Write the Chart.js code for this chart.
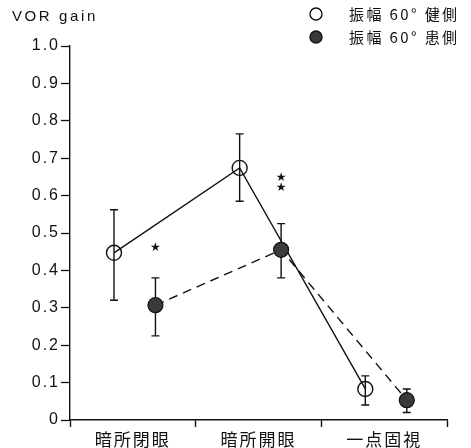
<!DOCTYPE html>
<html>
<head>
<meta charset="utf-8">
<script src="https://cdn.jsdelivr.net/npm/chart.js@4.4.1/dist/chart.umd.min.js"></script>
<style>
  html, body { margin: 0; padding: 0; background: #ffffff; }
  #wrap { width: 471px; height: 448px; }
</style>
</head>
<body>
<div id="wrap"><canvas id="c" width="471" height="448"></canvas></div>
<script>
// ---- data ----
const categories = ['暗所閉眼', '暗所開眼', '一点固視'];
const seriesLabels = ['振幅 60° 健側', '振幅 60° 患側'];
const healthyMean = [0.447, 0.674, 0.083];
const healthyLow  = [0.320, 0.585, 0.040];
const healthyHigh = [0.562, 0.765, 0.118];
const affectedMean = [0.307, 0.455, 0.053];
const affectedLow  = [0.225, 0.380, 0.020];
const affectedHigh = [0.380, 0.525, 0.083];
const seriesOffset = [-0.15, 0.18];           // position of each series inside its category
const sigMarks = ['★', '★★', ''];             // significance markers above the 患側 points
const sigLevel = [0.46, 0.635, null];
const yTickValues = [0, 0.1, 0.2, 0.3, 0.4, 0.5, 0.6, 0.7, 0.8, 0.9, 1.0];
const yTickLabels = ['0', '0.1', '0.2', '0.3', '0.4', '0.5', '0.6', '0.7', '0.8', '0.9', '1.0'];
const yTitle = 'VOR gain';

// ---- helpers ----
function pts(means, off) {
  return means.map((v, i) => ({ x: i + 0.5 + off, y: v }));
}

const errorBars = {
  id: 'errorBars',
  beforeDatasetsDraw(chart) {
    const { ctx, scales: { x, y } } = chart;
    ctx.save();
    ctx.letterSpacing = '0px';
    ctx.strokeStyle = '#111';
    ctx.lineWidth = 1.4;
    ctx.setLineDash([]);
    chart.data.datasets.forEach(ds => {
      ds.data.forEach((p, i) => {
        const px = x.getPixelForValue(p.x);
        const y1 = y.getPixelForValue(ds.errLow[i]);
        const y2 = y.getPixelForValue(ds.errHigh[i]);
        ctx.beginPath();
        ctx.moveTo(px, y1); ctx.lineTo(px, y2);
        ctx.moveTo(px - 4, y1); ctx.lineTo(px + 4, y1);
        ctx.moveTo(px - 4, y2); ctx.lineTo(px + 4, y2);
        ctx.stroke();
      });
    });
    ctx.restore();
  }
};

const spacing = {
  id: 'spacing',
  beforeDraw(chart) { chart.ctx.letterSpacing = '2px'; },
  beforeDatasetsDraw(chart) { chart.ctx.letterSpacing = '0px'; }
};

const extras = {
  id: 'extras',
  afterDraw(chart) {
    const { ctx, scales: { x, y } } = chart;
    ctx.save();
    // significance stars
    ctx.fillStyle = '#111';
    ctx.font = '12px "DejaVu Sans"';
    ctx.textAlign = 'center';
    ctx.textBaseline = 'middle';
    ctx.letterSpacing = '0px';
    sigMarks.forEach((m, i) => {
      if (!m || sigLevel[i] == null) return;
      const px = x.getPixelForValue(i + 0.5 + seriesOffset[1]);
      const py = y.getPixelForValue(sigLevel[i]);
      const chars = Array.from(m);
      chars.forEach((ch, k) => {
        ctx.fillText(ch, px, py + (k - (chars.length - 1) / 2) * 10);
      });
    });
    // y-axis title
    ctx.font = '15px "Liberation Sans"';
    ctx.textAlign = 'left';
    ctx.letterSpacing = '2.6px';
    ctx.fillText(yTitle, 12, 17);
    // legend
    chart.data.datasets.forEach((ds, i) => {
      const cy = 14 + i * 23;
      ctx.beginPath();
      ctx.arc(316, cy, 6, 0, Math.PI * 2);
      ctx.fillStyle = ds.pointBackgroundColor === 'rgba(0,0,0,0)' ? '#fff' : ds.pointBackgroundColor;
      ctx.fill();
      ctx.lineWidth = 1.4;
      ctx.strokeStyle = '#111';
      ctx.stroke();
      ctx.fillStyle = '#111';
      ctx.font = '15px "Noto Sans CJK JP"';
      ctx.letterSpacing = '2.4px';
      ctx.textBaseline = 'middle';
      ctx.fillText(ds.label, 349, cy);
    });
    ctx.restore();
  }
};

new Chart(document.getElementById('c'), {
  type: 'scatter',
  data: {
    datasets: [
      {
        label: seriesLabels[0],
        data: pts(healthyMean, seriesOffset[0]),
        errLow: healthyLow, errHigh: healthyHigh,
        showLine: true,
        borderColor: '#111', borderWidth: 1.4,
        pointRadius: 7.5, pointBorderWidth: 1.4,
        pointBackgroundColor: 'rgba(0,0,0,0)', pointBorderColor: '#111',
        order: 1
      },
      {
        label: seriesLabels[1],
        data: pts(affectedMean, seriesOffset[1]),
        errLow: affectedLow, errHigh: affectedHigh,
        showLine: true,
        borderColor: '#111', borderWidth: 1.4, borderDash: [9, 6],
        pointRadius: 7.5, pointBorderWidth: 1.2,
        pointBackgroundColor: '#3a3a3a', pointBorderColor: '#111',
        order: 0
      }
    ]
  },
  options: {
    responsive: false,
    animation: false,
    devicePixelRatio: 1,
    clip: false,
    layout: { padding: { top: 46, right: 24, left: 0, bottom: 0 } },
    plugins: { legend: { display: false }, tooltip: { enabled: false } },
    scales: {
      x: {
        type: 'linear', min: 0, max: 3,
        afterBuildTicks(axis) {
          const t = [];
          for (let i = 0; i <= categories.length; i++) {
            t.push({ value: i });
            if (i < categories.length) t.push({ value: i + 0.5 });
          }
          axis.ticks = t;
        },
        afterFit(axis) { axis.height = 28; },
        border: { display: true, color: '#111', width: 1.4 },
        grid: {
          drawOnChartArea: false, drawTicks: true, tickLength: 7,
          tickColor: c => (Number.isInteger(c.tick.value) ? '#111' : 'rgba(0,0,0,0)'),
          tickWidth: 1.4
        },
        ticks: {
          autoSkip: false, maxRotation: 0, minRotation: 0, padding: 2,
          color: '#111',
          font: { family: '"Noto Sans CJK JP"', size: 17 },
          callback: v => (Number.isInteger(v) ? '' : categories[Math.floor(v)])
        }
      },
      y: {
        type: 'linear', min: 0, max: 1,
        afterBuildTicks(axis) { axis.ticks = yTickValues.map(v => ({ value: v })); },
        afterFit(axis) { axis.width = 70; },
        border: { display: true, color: '#111', width: 1.4 },
        grid: { drawOnChartArea: false, drawTicks: true, tickLength: 9, tickColor: '#111', tickWidth: 1.3 },
        ticks: {
          autoSkip: false, padding: 1, color: '#111',
          font: { family: '"Liberation Sans"', size: 16 },
          callback: (v, i) => yTickLabels[i]
        }
      }
    }
  },
  plugins: [spacing, errorBars, extras]
});
</script>
</body>
</html>
